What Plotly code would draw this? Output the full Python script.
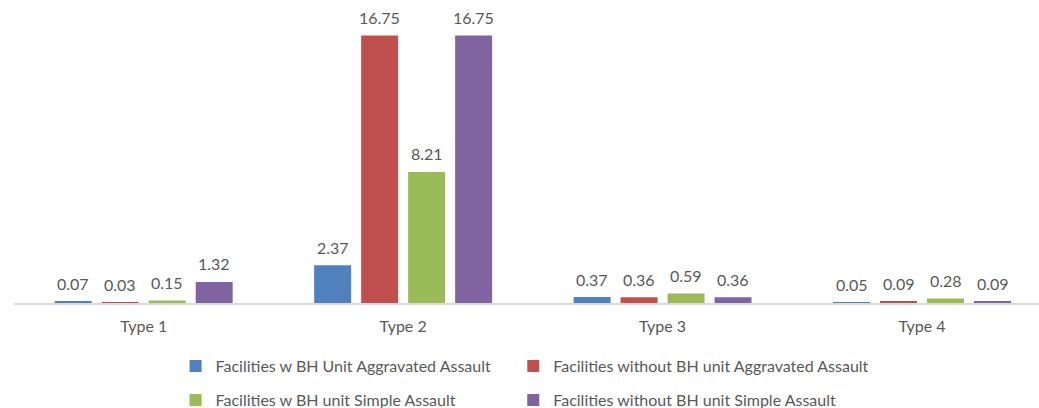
import plotly.graph_objects as go

categories = ["Type 1", "Type 2", "Type 3", "Type 4"]
series_names = [
    "Facilities w BH Unit Aggravated Assault",
    "Facilities without BH unit Aggravated Assault",
    "Facilities w BH unit Simple Assault",
    "Facilities without BH unit Simple Assault",
]
w_bh_aggravated = [0.07, 2.37, 0.37, 0.05]
without_bh_aggravated = [0.03, 16.75, 0.36, 0.09]
w_bh_simple = [0.15, 8.21, 0.59, 0.28]
without_bh_simple = [1.32, 16.75, 0.36, 0.09]

series_values = [w_bh_aggravated, without_bh_aggravated, w_bh_simple, without_bh_simple]
colors = ["#4F81BD", "#C0504D", "#9BBB59", "#8064A2"]
legend_ids = ["legend", "legend2", "legend3", "legend4"]

FONT = "Lato"
TXT = "#595959"

fig = go.Figure()
for name, vals, col, lg in zip(series_names, series_values, colors, legend_ids):
    fig.add_trace(go.Bar(
        x=categories, y=vals, name=name, marker_color=col,
        marker_line_width=0, legend=lg,
    ))

# data labels
pitch_px = 47
for i, vals in enumerate(series_values):
    for cat, v in zip(categories, vals):
        fig.add_annotation(
            x=cat, y=v, xref="x", yref="y", text=f"{v:.2f}",
            showarrow=False, xshift=(i - 1.5) * pitch_px, yshift=18,
            yanchor="middle", font=dict(family=FONT, size=16, color=TXT),
        )

legend_common = dict(
    orientation="h", xref="container", yref="container",
    xanchor="left", yanchor="middle", itemwidth=30,
    font=dict(family=FONT, size=16, color=TXT), bgcolor="rgba(0,0,0,0)",
)
col_x = [0.169, 0.494]
row_y = [42 / 408, 8 / 408]

fig.update_layout(
    width=1039, height=408,
    margin=dict(l=14, r=0, t=16, b=105),
    paper_bgcolor="white", plot_bgcolor="white",
    barmode="group", bargap=0.2755, bargroupgap=0.213,
    font=dict(family=FONT, size=15, color=TXT),
    xaxis=dict(
        range=[-0.5, 3.451], showline=True, linecolor="#D9D9D9", linewidth=2,
        showgrid=False, ticks="", ticklabelstandoff=8,
        tickfont=dict(family=FONT, size=16, color=TXT),
    ),
    yaxis=dict(range=[0, 17.97], visible=False, showgrid=False, zeroline=False),
    legend=dict(legend_common, x=col_x[0], y=row_y[0]),
    legend2=dict(legend_common, x=col_x[1], y=row_y[0]),
    legend3=dict(legend_common, x=col_x[0], y=row_y[1]),
    legend4=dict(legend_common, x=col_x[1], y=row_y[1]),
    showlegend=True,
)

fig.write_html(
    "out.html",
    config={"displayModeBar": False},
    post_script="document.body.style.margin='0';",
)
